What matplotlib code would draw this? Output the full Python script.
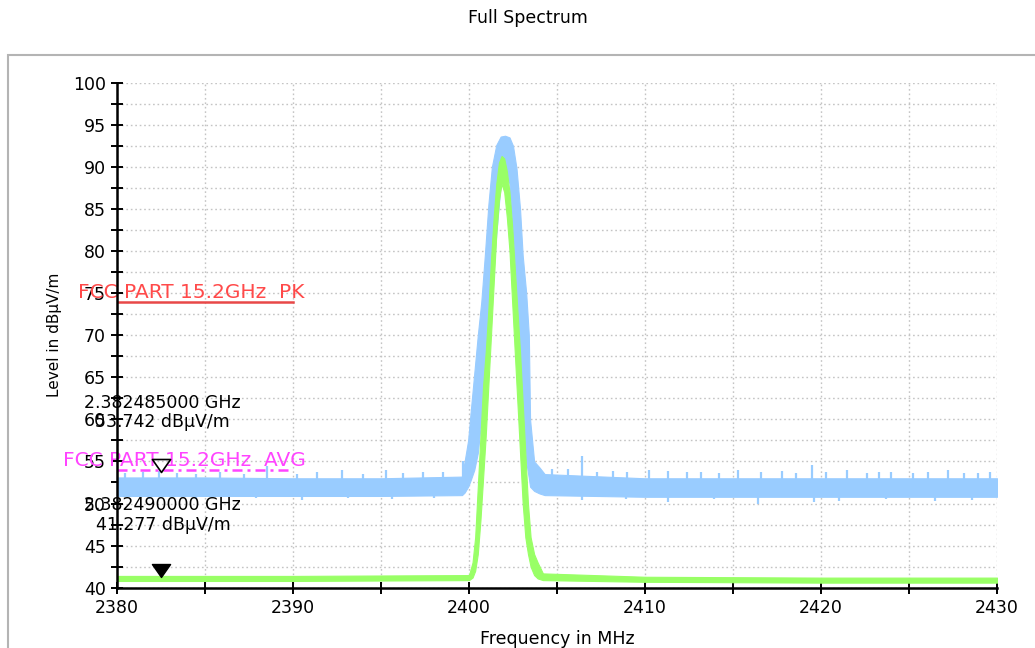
import matplotlib.pyplot as plt
from matplotlib.path import Path
from matplotlib.patches import Rectangle

# blue trace (peak detector): envelope
blue_freq = [2380, 2385, 2390, 2395, 2399.6, 2399.75, 2399.95, 2400.1, 2400.3, 2400.5,
             2400.7, 2400.9, 2401.1, 2401.3, 2401.55, 2401.8, 2402.05, 2402.3, 2402.5,
             2402.7, 2402.9, 2403.05, 2403.25, 2403.4, 2403.47, 2403.7, 2404.0, 2404.3,
             2410, 2415, 2420, 2425, 2430]
blue_hi = [53.1, 53.1, 53.0, 53.0, 53.2, 55.0, 57.5, 61.0, 65.5, 70.0,
           74.0, 79.5, 85.5, 90.0, 92.6, 93.6, 93.7, 93.5, 92.5,
           89.8, 85.0, 79.5, 75.0, 70.0, 60.0, 55.0, 54.3, 53.5,
           53.0, 53.0, 53.0, 53.0, 53.0]
blue_lo = [50.9, 50.9, 50.9, 50.9, 51.0, 51.3, 52.0, 52.8, 54.0, 56.0,
           60.0, 64.0, 69.0, 75.0, 82.0, 88.0, 90.0, 88.0, 82.0,
           75.0, 68.0, 61.0, 55.0, 53.0, 52.0, 51.5, 51.2, 51.0,
           50.8, 50.8, 50.8, 50.8, 50.8]

# blue noise spikes / dips
spike_freq = [2380.45, 2381.5, 2382.4, 2383.4, 2384.5, 2385.85, 2387.2, 2388.5, 2390.2,
              2391.35, 2392.8, 2394.0, 2395.3, 2396.25, 2397.4, 2398.5, 2399.65,
              2404.7, 2405.6, 2406.4, 2407.3, 2408.2, 2409.0, 2410.2, 2411.3, 2412.4,
              2413.2, 2414.2, 2415.3, 2416.6, 2417.8, 2418.6, 2419.5, 2420.3, 2421.5,
              2422.6, 2423.3, 2424.0, 2425.2, 2426.1, 2427.2, 2428.1, 2428.9, 2429.6]
spike_top = [53.6, 53.8, 53.9, 53.6, 53.5, 53.7, 53.5, 54.4, 53.5,
             53.7, 54.0, 53.5, 54.0, 53.6, 53.8, 53.7, 55.0,
             54.1, 54.1, 55.6, 53.8, 53.9, 53.7, 54.0, 53.9, 53.7,
             53.8, 53.6, 54.0, 53.7, 53.9, 53.6, 54.6, 53.8, 54.0,
             53.6, 53.8, 53.7, 53.6, 53.7, 54.0, 53.6, 53.6, 53.7]
dip_freq = [2381.8, 2384.5, 2387.9, 2390.5, 2393.1, 2395.6, 2398.0, 2406.4, 2408.9,
            2411.3, 2413.9, 2416.4, 2419.6, 2421.0, 2423.7, 2426.5, 2428.6]
dip_bottom = [50.5, 50.5, 50.6, 50.4, 50.6, 50.5, 50.6, 50.4, 50.5,
              50.2, 50.5, 50.0, 50.2, 50.3, 50.5, 50.3, 50.4]

# green trace (average detector)
green_freq = [2380, 2390, 2400.0, 2400.2, 2400.35, 2400.5, 2400.65, 2400.8, 2400.95,
              2401.1, 2401.25, 2401.4, 2401.55, 2401.7, 2401.85, 2402.0, 2402.15,
              2402.3, 2402.45, 2402.6, 2402.75, 2402.9, 2403.05, 2403.2, 2403.35,
              2403.5, 2403.7, 2403.9, 2404.2, 2410, 2420, 2430]
green_hi = [41.4, 41.4, 41.5, 43.0, 46.0, 52.0, 58.0, 64.0, 68.0,
            73.0, 79.0, 84.0, 88.0, 90.5, 91.3, 91.0, 89.5,
            87.0, 83.0, 78.0, 73.0, 68.0, 62.0, 56.0, 50.0,
            46.0, 44.0, 43.0, 41.7, 41.3, 41.2, 41.2]
green_lo = [40.8, 40.8, 40.9, 41.2, 42.0, 44.0, 48.0, 53.0, 58.0,
            64.0, 70.0, 76.0, 82.0, 86.0, 88.0, 87.0, 84.0,
            80.0, 74.0, 68.0, 62.0, 56.0, 50.0, 46.0, 44.0,
            42.5, 41.5, 41.1, 40.9, 40.7, 40.6, 40.6]

# limit lines
limit_freq = [2380, 2390]
pk_limit = 74
avg_limit = 54

# markers
marker_freq = [2382.485, 2382.49]
marker_level = [53.742, 41.277]

BLUE = "#99ccff"
GREEN = "#99ff66"

fig = plt.figure(figsize=(10.35, 6.48), dpi=100)
ax = fig.add_axes([0.11304, 0.09306, 0.85024, 0.77932])

# outer gray frame
fig.patches.append(Rectangle((8 / 1035, -0.05), 1.1, 1 - 55 / 648 + 0.05, transform=fig.transFigure,
                             fill=False, edgecolor="#b4b4b4", linewidth=1.5, zorder=0))

ax.fill_between(blue_freq, blue_lo, blue_hi, color=BLUE, linewidth=0.8, edgecolor=BLUE, zorder=2)
ax.vlines(spike_freq, 52.5, spike_top, color=BLUE, linewidth=1.6, zorder=2)
ax.vlines(dip_freq, dip_bottom, 51.5, color=BLUE, linewidth=1.6, zorder=2)
ax.fill_between(green_freq, green_lo, green_hi, color=GREEN, linewidth=0.8, edgecolor=GREEN, zorder=3)

ax.plot(limit_freq, [pk_limit, pk_limit], color="#e84848", linewidth=1.8, zorder=4)
ax.plot(limit_freq, [avg_limit, avg_limit], color="#ff44ff", linewidth=1.8,
        linestyle=(0, (4, 2, 1.2, 2)), zorder=4)
ax.text(2377.8, 75.1, "FCC PART 15.2GHz  PK", color="#ff4a4a", fontsize=14.5,
        va="center", ha="left", zorder=5, clip_on=False)
ax.text(2376.95, 55.06, "FCC PART 15.2GHz  AVG", color="#ff44ff", fontsize=14.5,
        va="center", ha="left", zorder=5, clip_on=False)

tri = Path([(-0.7, 1.0), (0.7, 1.0), (0.0, 0.0), (-0.7, 1.0)],
           [Path.MOVETO, Path.LINETO, Path.LINETO, Path.CLOSEPOLY])
ax.plot(marker_freq[0], marker_level[0], marker=tri, markersize=18.7, markerfacecolor="none",
        markeredgecolor="black", markeredgewidth=1.2, linestyle="none", zorder=6)
ax.plot(marker_freq[1], marker_level[1], marker=tri, markersize=18.7, markerfacecolor="black",
        markeredgecolor="black", markeredgewidth=1.0, linestyle="none", zorder=6)

ax.text(2378.1, 62.0, "2.382485000 GHz", fontsize=12.5, va="center", ha="left", clip_on=False, zorder=6)
ax.text(2378.75, 59.7, "53.742 dBµV/m", fontsize=12.5, va="center", ha="left", clip_on=False, zorder=6)
ax.text(2378.1, 49.8, "2.382490000 GHz", fontsize=12.5, va="center", ha="left", clip_on=False, zorder=6)
ax.text(2378.8, 47.45, "41.277 dBµV/m", fontsize=12.5, va="center", ha="left", clip_on=False, zorder=6)

ax.set_xlim(2380, 2430)
ax.set_ylim(40, 100)
ax.set_xticks(range(2380, 2431, 10))
ax.set_xticks(range(2385, 2430, 10), minor=True)
ax.set_yticks(range(40, 101, 5))
ax.set_yticks([v + 2.5 for v in range(40, 100, 5)], minor=True)
ax.tick_params(which="both", direction="inout", length=9, width=1.4, labelsize=12.5, color="black")
ax.grid(which="both", linestyle=(0, (1.2, 2)), color="#c4c4c4", linewidth=1.0, zorder=1)
ax.set_axisbelow(True)
for side in ("top", "right"):
    ax.spines[side].set_visible(False)
for side in ("left", "bottom"):
    ax.spines[side].set_linewidth(1.8)
    ax.spines[side].set_zorder(7)

ax.set_xlabel("Frequency in MHz", fontsize=12.5)
ax.set_ylabel("Level in dBµV/m", fontsize=11)
ax.xaxis.set_label_coords(0.5, -0.083)
ax.yaxis.set_label_coords(-0.062, 0.5)
fig.text(0.51, 0.972, "Full Spectrum", ha="center", va="center", fontsize=12.5)

fig.savefig("out.png", dpi=100)
